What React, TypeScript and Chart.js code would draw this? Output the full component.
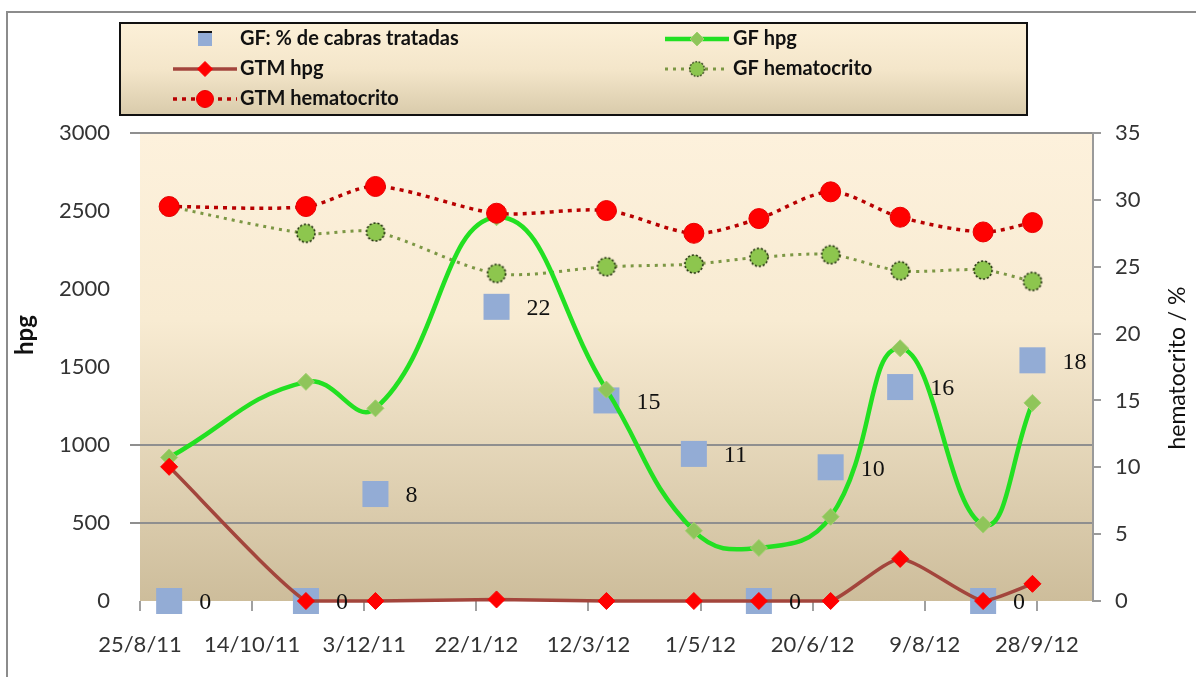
import React, { useEffect, useRef } from 'react';
import { Chart, registerables } from 'chart.js';

Chart.register(...registerables);

// ---------- data ----------
const BASE_DATE = '25/8/11';
const X_SPAN_DAYS = 425;
const xTickDates = ['25/8/11', '14/10/11', '3/12/11', '22/1/12', '12/3/12', '1/5/12', '20/6/12', '9/8/12', '28/9/12'];
const sampleDates = ['7/9/11', '7/11/11', '8/12/11', '31/1/12', '20/3/12', '28/4/12', '27/5/12', '28/6/12', '29/7/12', '4/9/12', '26/9/12'];

const gfTreatedPct = [0, 0, 8, 22, 15, 11, 0, 10, 16, 0, 18];
const gfHpg = [920, 1405, 1235, 2460, 1355, 450, 340, 540, 1620, 490, 1270];
const gtmHpg = [860, 0, 0, 10, 0, 0, 0, 0, 270, 0, 110];
const gfHemato = [29.5, 27.5, 27.6, 24.5, 25.0, 25.2, 25.7, 25.9, 24.7, 24.75, 23.9];
const gtmHemato = [29.5, 29.5, 31.0, 29.0, 29.2, 27.5, 28.6, 30.6, 28.7, 27.6, 28.3];

const seriesLabels = ['GF: % de cabras tratadas', 'GF hpg', 'GTM hpg', 'GF hematocrito', 'GTM hematocrito'];
const hpgMax = 3000;
const hpgStep = 500;
const hpgGridShown = [500, 1000, 3000];
const hematoMax = 35;
const hematoStep = 5;
const leftTitle = 'hpg';
const rightTitle = 'hematocrito / %';

// ---------- helpers ----------
function utcOf(s: string): number {
  const [d, m, y] = s.split('/').map(Number);
  return Date.UTC(2000 + y, m - 1, d);
}
const BASE_MS = utcOf(BASE_DATE);
function dayOf(s: string): number {
  return Math.round((utcOf(s) - BASE_MS) / 86400000);
}
function fmtDay(v: number): string {
  const dt = new Date(BASE_MS + v * 86400000);
  return `${dt.getUTCDate()}/${dt.getUTCMonth() + 1}/${dt.getUTCFullYear() % 100}`;
}
function pts(values: number[]) {
  return values.map((v, i) => ({ x: dayOf(sampleDates[i]), y: v }));
}

function makeDashedCircle(r: number, fill: string, stroke: string): HTMLCanvasElement {
  const c = document.createElement('canvas');
  const s = Math.ceil(2 * r + 4);
  c.width = s;
  c.height = s;
  const g = c.getContext('2d')!;
  g.beginPath();
  g.arc(s / 2, s / 2, r, 0, Math.PI * 2);
  g.fillStyle = fill;
  g.fill();
  g.setLineDash([2.2, 1.8]);
  g.lineWidth = 1.6;
  g.strokeStyle = stroke;
  g.stroke();
  return c;
}

function drawMarker(ctx: CanvasRenderingContext2D, style: any, x: number, y: number, r: number, fill: string, stroke: string, bw: number) {
  if (style instanceof HTMLCanvasElement) {
    const w = 2 * r + 4;
    ctx.drawImage(style, x - w / 2, y - w / 2, w, w);
    return;
  }
  ctx.beginPath();
  if (style === 'circle') ctx.arc(x, y, r, 0, Math.PI * 2);
  else if (style === 'rectRot') {
    ctx.moveTo(x, y - r);
    ctx.lineTo(x + r, y);
    ctx.lineTo(x, y + r);
    ctx.lineTo(x - r, y);
    ctx.closePath();
  } else ctx.rect(x - r, y - r, 2 * r, 2 * r);
  ctx.fillStyle = fill;
  ctx.fill();
  if (bw > 0) {
    ctx.lineWidth = bw;
    ctx.strokeStyle = stroke;
    ctx.stroke();
  }
}

const legendSlots = [[0, 0], [1, 0], [0, 1], [1, 1], [0, 2]];
const legendMarkerR = [7, 7, 7.5, 7, 8.5];

const decorPlugin = {
  id: 'decor',
  beforeDraw(chart: any) {
    const { ctx, chartArea: a } = chart;
    ctx.save();
    ctx.strokeStyle = '#8c8c8c';
    ctx.lineWidth = 2;
    ctx.strokeRect(7, 12, chart.width + 20, chart.height + 20);
    const g = ctx.createLinearGradient(0, a.top, 0, a.bottom);
    g.addColorStop(0, '#fdf1dc');
    g.addColorStop(0.4, '#f8ebd2');
    g.addColorStop(1, '#cdbd9b');
    ctx.fillStyle = g;
    ctx.fillRect(a.left, a.top, a.right - a.left, a.bottom - a.top);
    ctx.restore();
  },
  afterDatasetsDraw(chart: any) {
    const { ctx } = chart;
    const meta = chart.getDatasetMeta(0);
    const ds = chart.data.datasets[0];
    ctx.save();
    ctx.font = '24px "Liberation Serif"';
    ctx.fillStyle = '#111';
    ctx.textAlign = 'left';
    ctx.textBaseline = 'middle';
    meta.data.forEach((el: any, i: number) => {
      ctx.fillText(String(ds.data[i].y), el.x + 30, el.y + 2);
    });
    ctx.restore();
  },
  afterDraw(chart: any) {
    const { ctx } = chart;
    ctx.save();
    // legend box
    const bx = 120, by = 23, bw = 907, bh = 92;
    const g = ctx.createLinearGradient(0, by, 0, by + bh);
    g.addColorStop(0, '#fcf0d8');
    g.addColorStop(0.5, '#f4e6ca');
    g.addColorStop(1, '#d9cbab');
    ctx.fillStyle = g;
    ctx.fillRect(bx, by, bw, bh);
    ctx.strokeStyle = '#111';
    ctx.lineWidth = 2;
    ctx.strokeRect(bx, by, bw, bh);

    const colMarkerX = [205, 697];
    const colTextX = [240, 733];
    const rowY = [39, 69, 99];
    chart.data.datasets.forEach((ds: any, i: number) => {
      const [c, r] = legendSlots[i];
      const mx = colMarkerX[c];
      const y = rowY[r];
      if (ds.showLine !== false) {
        ctx.save();
        ctx.beginPath();
        ctx.moveTo(mx - 32, y);
        ctx.lineTo(mx + 32, y);
        ctx.strokeStyle = ds.borderColor;
        ctx.lineWidth = ds.borderWidth;
        ctx.setLineDash(ds.borderDash || []);
        ctx.stroke();
        ctx.restore();
        drawMarker(ctx, ds.pointStyle, mx, y, legendMarkerR[i], ds.pointBackgroundColor, ds.pointBorderColor, ds.pointBorderWidth || 0);
      } else {
        ctx.fillStyle = ds.pointBackgroundColor;
        ctx.fillRect(mx - 7, y - 7, 14, 14);
        ctx.fillStyle = '#111';
        ctx.fillRect(mx - 7, y - 8, 14, 2);
      }
      ctx.fillStyle = '#111';
      ctx.font = 'bold 20px Lato';
      ctx.textAlign = 'left';
      ctx.textBaseline = 'middle';
      ctx.fillText(ds.label, colTextX[c], y);
    });

    // axis titles
    ctx.fillStyle = '#111';
    ctx.textAlign = 'center';
    ctx.textBaseline = 'middle';
    ctx.save();
    ctx.translate(25, 335);
    ctx.rotate(-Math.PI / 2);
    ctx.font = 'bold 24px Lato';
    ctx.fillText(leftTitle, 0, 0);
    ctx.restore();
    ctx.save();
    ctx.translate(1178, 368);
    ctx.rotate(-Math.PI / 2);
    ctx.font = '23px Lato';
    ctx.fillText(rightTitle, 0, 0);
    ctx.restore();
    ctx.restore();
  },
};

export default function App() {
  const ref = useRef<HTMLCanvasElement | null>(null);

  useEffect(() => {
    if (!ref.current) return;
    const gfHematoPoint = makeDashedCircle(9, '#8dc64e', '#253510');
    const tickFont = { family: 'Lato', size: 22 };
    const chart = new Chart(ref.current, {
      type: 'line',
      data: {
        datasets: [
          {
            label: seriesLabels[0],
            data: pts(gfTreatedPct),
            yAxisID: 'y1',
            showLine: false,
            pointStyle: 'rect',
            pointRadius: 18.4,
            pointHoverRadius: 18.4,
            pointBackgroundColor: '#93acd5',
            pointBorderColor: '#93acd5',
            pointBorderWidth: 0,
            borderColor: '#93acd5',
            backgroundColor: '#93acd5',
            order: 4,
            clip: false,
          },
          {
            label: seriesLabels[1],
            data: pts(gfHpg),
            yAxisID: 'y',
            borderColor: '#22e022',
            borderWidth: 4.5,
            tension: 0.45,
            pointStyle: 'rectRot',
            pointRadius: 8.5,
            pointHoverRadius: 8.5,
            pointBackgroundColor: '#8fc55a',
            pointBorderColor: '#a2d070',
            pointBorderWidth: 1,
            order: 2,
            clip: false,
          },
          {
            label: seriesLabels[2],
            data: pts(gtmHpg),
            yAxisID: 'y',
            borderColor: '#a3453c',
            borderWidth: 3.5,
            tension: 0.2,
            pointStyle: 'rectRot',
            pointRadius: 8.5,
            pointHoverRadius: 8.5,
            pointBackgroundColor: '#ff0000',
            pointBorderColor: '#ff0000',
            pointBorderWidth: 1,
            order: 1,
            clip: false,
          },
          {
            label: seriesLabels[3],
            data: pts(gfHemato),
            yAxisID: 'y1',
            borderColor: '#7c9744',
            borderWidth: 3,
            borderDash: [3, 5],
            tension: 0.3,
            pointStyle: gfHematoPoint,
            pointRadius: 9,
            pointHoverRadius: 9,
            pointBackgroundColor: '#8dc64e',
            pointBorderColor: '#253510',
            pointBorderWidth: 0,
            order: 3,
            clip: false,
          },
          {
            label: seriesLabels[4],
            data: pts(gtmHemato),
            yAxisID: 'y1',
            borderColor: '#b80000',
            borderWidth: 3.5,
            borderDash: [4, 5],
            tension: 0.3,
            pointStyle: 'circle',
            pointRadius: 10,
            pointHoverRadius: 10,
            pointBackgroundColor: '#ff0000',
            pointBorderColor: '#e80000',
            pointBorderWidth: 1,
            order: 0,
            clip: false,
          },
        ],
      },
      options: {
        responsive: false,
        animation: false,
        events: [],
        layout: { padding: { top: 133, left: 0, right: 0, bottom: 0 } },
        plugins: {
          legend: { display: false },
          tooltip: { enabled: false },
          title: { display: false },
        },
        scales: {
          x: {
            type: 'linear',
            min: 0,
            max: X_SPAN_DAYS,
            afterBuildTicks: (s: any) => {
              s.ticks = xTickDates.map((d) => ({ value: dayOf(d) }));
            },
            afterFit: (s: any) => {
              s.height = 76;
            },
            grid: { drawOnChartArea: false, drawTicks: true, tickLength: 10, color: '#a0a0a0', lineWidth: 2 },
            border: { display: false },
            ticks: {
              callback: (v: any) => fmtDay(Number(v)),
              padding: 21,
              font: tickFont,
              color: '#333',
              maxRotation: 0,
              autoSkip: false,
            },
          },
          y: {
            type: 'linear',
            position: 'left',
            min: 0,
            max: hpgMax,
            afterFit: (s: any) => {
              s.width = 140;
            },
            grid: {
              color: (c: any) => (c.tick && hpgGridShown.includes(c.tick.value) ? '#8f8f8f' : 'rgba(0,0,0,0)'),
              lineWidth: 2,
              tickLength: 10,
            },
            border: { display: false },
            ticks: { stepSize: hpgStep, padding: 20, font: tickFont, color: '#333', callback: (v: any) => String(v) },
          },
          y1: {
            type: 'linear',
            position: 'right',
            min: 0,
            max: hematoMax,
            afterFit: (s: any) => {
              s.width = 103;
            },
            grid: { drawOnChartArea: false, tickLength: 8, color: '#9a9a9a', lineWidth: 2 },
            border: { display: true, color: '#9a9a9a', width: 2 },
            ticks: { stepSize: hematoStep, padding: 14, font: tickFont, color: '#333', callback: (v: any) => String(v) },
          },
        },
      },
      plugins: [decorPlugin],
    } as any);
    return () => chart.destroy();
  }, []);

  return (
    <div style={{ position: 'fixed', left: 0, top: 0, width: 1196, height: 677, background: '#fff' }}>
      <canvas ref={ref} width={1196} height={677} style={{ display: 'block' }} />
    </div>
  );
}
